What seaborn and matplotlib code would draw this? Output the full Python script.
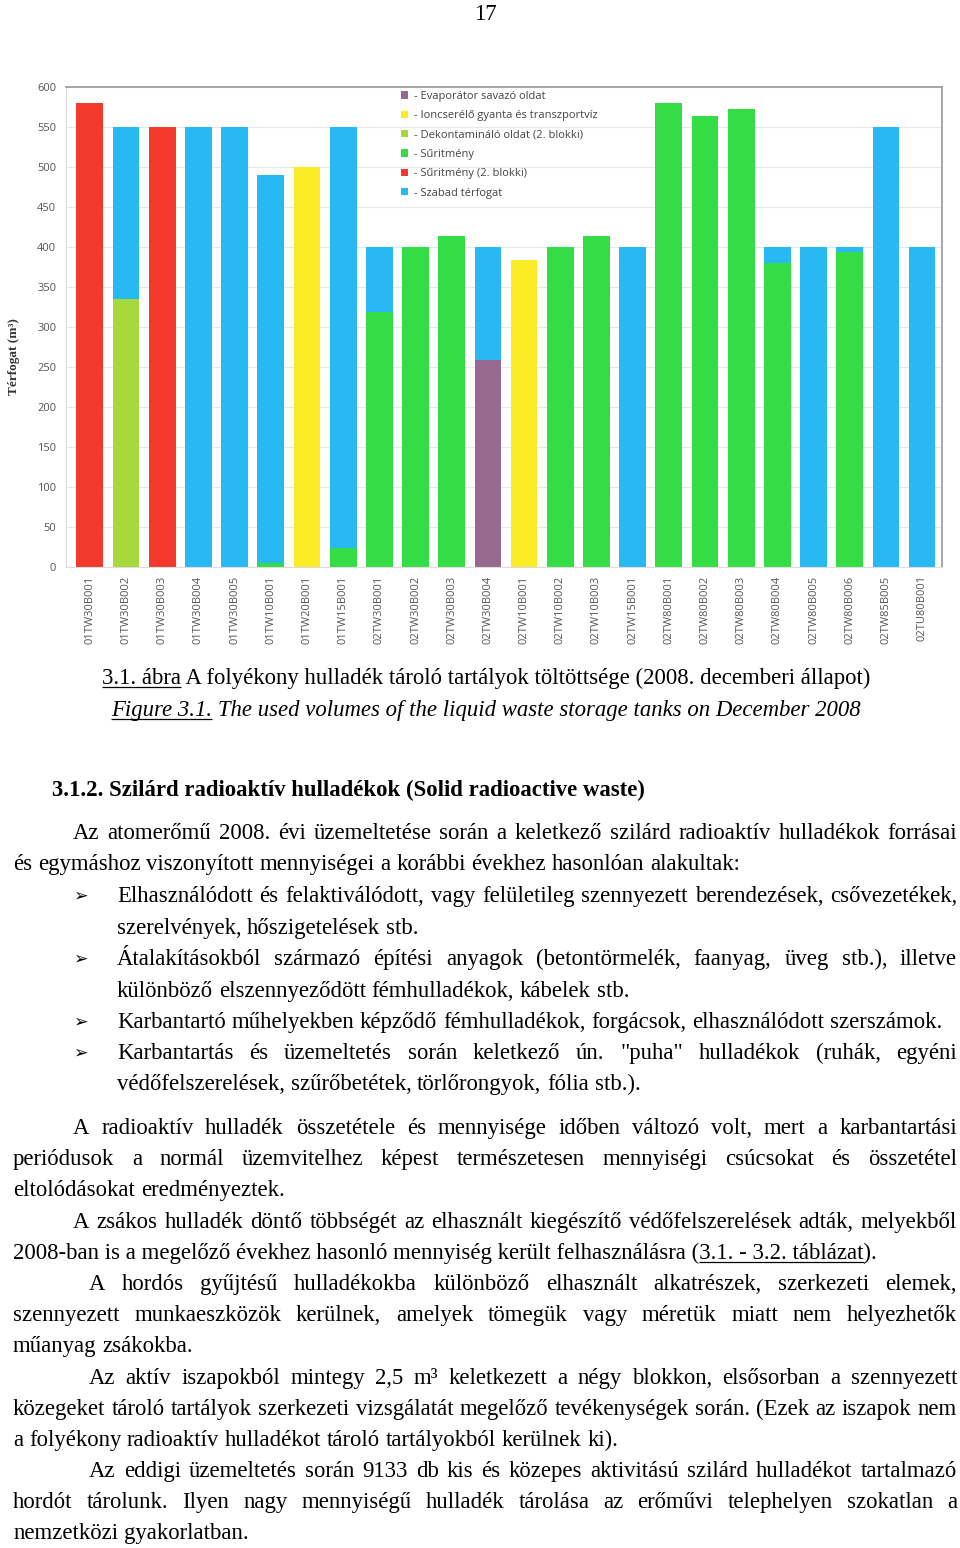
import matplotlib
matplotlib.use("Agg")
import matplotlib.pyplot as plt
from matplotlib.patches import Patch
import pandas as pd
import seaborn as sns

# tank fill levels, December 2008 (m3)
tanks = ["01TW30B001", "01TW30B002", "01TW30B003", "01TW30B004", "01TW30B005",
         "01TW10B001", "01TW20B001", "01TW15B001", "02TW30B001", "02TW30B002",
         "02TW30B003", "02TW30B004", "02TW10B001", "02TW10B002", "02TW10B003",
         "02TW15B001", "02TW80B001", "02TW80B002", "02TW80B003", "02TW80B004",
         "02TW80B005", "02TW80B006", "02TW85B005", "02TU80B001"]
fill_type = ["Sűritmény (2. blokki)", "Dekontamináló oldat (2. blokki)", "Sűritmény (2. blokki)",
             "Szabad térfogat", "Szabad térfogat", "Sűritmény",
             "Ioncserélő gyanta és transzportvíz", "Sűritmény", "Sűritmény", "Sűritmény",
             "Sűritmény", "Evaporátor savazó oldat", "Ioncserélő gyanta és transzportvíz",
             "Sűritmény", "Sűritmény", "Szabad térfogat", "Sűritmény", "Sűritmény",
             "Sűritmény", "Sűritmény", "Szabad térfogat", "Sűritmény", "Szabad térfogat",
             "Szabad térfogat"]
fill_m3 = [580, 335, 550, 0, 0, 5, 500, 24, 319, 400, 414, 259,
           384, 400, 414, 0, 580, 564, 573, 380, 0, 394, 0, 0]
free_m3 = [0, 215, 0, 550, 550, 485, 0, 526, 81, 0, 0, 141,
           0, 0, 0, 400, 0, 0, 0, 20, 400, 6, 550, 400]

legend_order = ["Evaporátor savazó oldat", "Ioncserélő gyanta és transzportvíz",
                "Dekontamináló oldat (2. blokki)", "Sűritmény",
                "Sűritmény (2. blokki)", "Szabad térfogat"]
palette = {"Evaporátor savazó oldat": "#956a8e",
           "Ioncserélő gyanta és transzportvíz": "#fcec26",
           "Dekontamináló oldat (2. blokki)": "#a7d83c",
           "Sűritmény": "#34dc46",
           "Sűritmény (2. blokki)": "#f3392c",
           "Szabad térfogat": "#28b8f2"}

page_no = "17"
caption_hu = ("3.1. ábra", "3.1. ábra A folyékony hulladék tároló tartályok töltöttsége (2008. decemberi állapot)")
caption_en = ("Figure 3.1.", "Figure 3.1. The used volumes of the liquid waste storage tanks on December 2008")
heading = "3.1.2. Szilárd radioaktív hulladékok (Solid radioactive waste)"

# (x start, y, text, justified, bullet)
body = [
    (73, 832, "Az atomerőmű 2008. évi üzemeltetése során a keletkező szilárd radioaktív hulladékok forrásai", True, False),
    (13, 863, "és egymáshoz viszonyított mennyiségei a korábbi évekhez hasonlóan alakultak:", False, False),
    (117, 895, "Elhasználódott és felaktiválódott, vagy felületileg szennyezett berendezések, csővezetékek,", True, True),
    (117, 927, "szerelvények, hőszigetelések stb.", False, False),
    (117, 958, "Átalakításokból származó építési anyagok (betontörmelék, faanyag, üveg stb.), illetve", True, True),
    (117, 990, "különböző elszennyeződött fémhulladékok, kábelek stb.", False, False),
    (117, 1021, "Karbantartó műhelyekben képződő fémhulladékok, forgácsok, elhasználódott szerszámok.", False, True),
    (117, 1052, "Karbantartás és üzemeltetés során keletkező ún. \"puha\" hulladékok (ruhák, egyéni", True, True),
    (117, 1083, "védőfelszerelések, szűrőbetétek, törlőrongyok, fólia stb.).", False, False),
    (73, 1127, "A radioaktív hulladék összetétele és mennyisége időben változó volt, mert a karbantartási", True, False),
    (13, 1158, "periódusok a normál üzemvitelhez képest természetesen mennyiségi csúcsokat és összetétel", True, False),
    (13, 1189, "eltolódásokat eredményeztek.", False, False),
    (73, 1221, "A zsákos hulladék döntő többségét az elhasznált kiegészítő védőfelszerelések adták, melyekből", True, False),
    (89, 1283, "A hordós gyűjtésű hulladékokba különböző elhasznált alkatrészek, szerkezeti elemek,", True, False),
    (13, 1314, "szennyezett munkaeszközök kerülnek, amelyek tömegük vagy méretük miatt nem helyezhetők", True, False),
    (13, 1345, "műanyag zsákokba.", False, False),
    (89, 1377, "Az aktív iszapokból mintegy 2,5 m³ keletkezett a négy blokkon, elsősorban a szennyezett", True, False),
    (13, 1408, "közegeket tároló tartályok szerkezeti vizsgálatát megelőző tevékenységek során. (Ezek az iszapok nem", True, False),
    (13, 1439, "a folyékony radioaktív hulladékot tároló tartályokból kerülnek ki).", False, False),
    (89, 1470, "Az eddigi üzemeltetés során 9133 db kis és közepes aktivitású szilárd hulladékot tartalmazó", True, False),
    (13, 1501, "hordót tárolunk. Ilyen nagy mennyiségű hulladék tárolása az erőművi telephelyen szokatlan a", True, False),
    (13, 1532, "nemzetközi gyakorlatban.", False, False),
]
ref_line = ("2008-ban is a megelőző évekhez hasonló mennyiség került felhasználásra (",
            "3.1. - 3.2. táblázat", ").")

sns.set_theme(style="white")
plt.rcParams['font.family'] = ['Open Sans', 'DejaVu Sans']

W, H = 960, 1548
fig = plt.figure(figsize=(W / 100, H / 100), dpi=100)
fig.patch.set_facecolor("white")

# ---- chart ----
ax = fig.add_axes([66 / W, 1 - 567 / H, 876 / W, 480 / H])
df = pd.DataFrame({"tank": tanks, "type": fill_type, "fill": fill_m3, "free": free_m3})
df["total"] = df["fill"] + df["free"]
sns.barplot(data=df, x="tank", y="total", color=palette["Szabad térfogat"], saturation=1,
            width=0.74, errorbar=None, linewidth=0, ax=ax)
sns.barplot(data=df, x="tank", y="fill", hue="type", hue_order=legend_order, palette=palette,
            saturation=1, dodge=False, width=0.74, errorbar=None, linewidth=0, legend=False, ax=ax)
ax.set_xlim(-0.66, 23.55)
ax.set_ylim(0, 600)
ax.set_yticks(range(0, 601, 50))
ax.set_xlabel("")
ax.set_ylabel("")
ax.yaxis.grid(True, color="#e8e8e8", lw=0.8)
ax.set_axisbelow(True)
ax.tick_params(axis="y", labelsize=8, labelcolor="#555555", length=0, pad=7)
ax.tick_params(axis="x", labelsize=8, labelcolor="#555555", length=0, pad=6, rotation=90)
for side in ["left", "bottom"]:
    ax.spines[side].set_color("#dddddd")
    ax.spines[side].set_linewidth(0.8)
for side in ["top", "right"]:
    ax.spines[side].set_color("#a0a0a0")
    ax.spines[side].set_linewidth(1.3)

handles = [Patch(facecolor=palette[k], edgecolor="none") for k in legend_order]
ax.legend(handles, ["- " + k for k in legend_order], loc="upper left",
          bbox_to_anchor=(401 / W, 1 - 91 / H), bbox_transform=fig.transFigure,
          frameon=False, fontsize=8, labelcolor="#444444", handlelength=0.65,
          handleheight=0.65, handletextpad=0.55, labelspacing=0.75, borderpad=0, borderaxespad=0)

fig.text(14 / W, 1 - 357 / H, "Térfogat (m³)", rotation=90, ha="center", va="center",
         family="Liberation Serif", weight="bold", fontsize=9.5, color="#333333")

# ---- page text ----
tx = fig.add_axes([0, 0, 1, 1])
tx.set_xlim(0, W)
tx.set_ylim(H, 0)
tx.axis("off")
tx.patch.set_alpha(0)
rend = fig.canvas.get_renderer()

BODY = 16.4
serif = dict(family="Liberation Serif", fontsize=BODY, color="black")


def width(s, **kw):
    t = tx.text(0, 0, s, **kw)
    w = t.get_window_extent(rend).width
    t.remove()
    return w


space_w = width("a a", **serif) - width("aa", **serif)


def put_line(x0, y, text, justified, x1=957, **kw):
    words = text.split(" ")
    arts = [tx.text(0, y, w, va="baseline", ha="left", **kw) for w in words]
    ws = [a.get_window_extent(rend).width for a in arts]
    gap = (x1 - x0 - sum(ws)) / (len(words) - 1) if justified else space_w
    x = x0
    for a, w in zip(arts, ws):
        a.set_x(x)
        x += w + gap


def underline(x0, x1, y):
    tx.plot([x0, x1], [y + 3, y + 3], color="black", lw=0.9, solid_capstyle="butt")


tx.text(485, 20, page_no, ha="center", va="baseline", **serif)

for (ul, full), y, style in [(caption_hu, 684, "normal"), (caption_en, 716, "italic")]:
    w = width(full, style=style, **serif)
    x0 = 486 - w / 2
    tx.text(x0, y, full, ha="left", va="baseline", style=style, **serif)
    underline(x0, x0 + width(ul, style=style, **serif), y)

tx.text(52, 796, heading, ha="left", va="baseline", weight="bold", **serif)

for x0, y, text, just, bullet in body:
    put_line(x0, y + 7, text, just, **serif)
    if bullet:
        tx.text(73, y + 6, "➢", ha="left", va="baseline", family="DejaVu Sans",
                fontsize=12.5, color="black")

pre, ul, post = ref_line
y = 1252 + 7
tx.text(13, y, pre + ul + post, ha="left", va="baseline", **serif)
ux0 = 13 + width(pre, **serif)
underline(ux0, 13 + width(pre + ul, **serif), y)

fig.savefig("out.png", dpi=100, facecolor="white")
